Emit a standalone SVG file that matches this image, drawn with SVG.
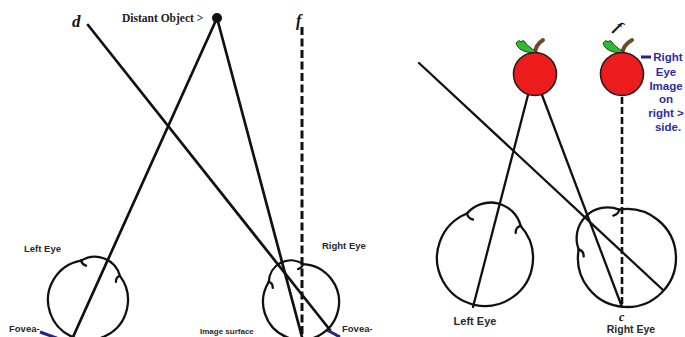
<svg xmlns="http://www.w3.org/2000/svg" width="685" height="337" viewBox="0 0 685 337">
  <defs>
    <style>
      .ray { stroke: #111; stroke-width: 2.7; fill: none; stroke-linecap: round; }
      .ray2 { stroke: #111; stroke-width: 2.3; fill: none; stroke-linecap: round; }
      .dash { stroke: #111; stroke-width: 3; fill: none; stroke-dasharray: 8 3.5; }
      .dash2 { stroke: #111; stroke-width: 2.6; fill: none; stroke-dasharray: 7 3; }
      .eye { stroke: #111; stroke-width: 2.3; fill: none; stroke-linecap: round; }
      .lbl { font-family: "Liberation Sans", Arial, sans-serif; font-weight: bold; fill: #2a2a2a; }
      .blue { font-family: "Liberation Sans", Arial, sans-serif; font-weight: bold; fill: #2e2e9c; font-size: 11.5px; text-anchor: middle; }
      .sym { font-family: "Liberation Serif", "Times New Roman", serif; font-style: italic; font-weight: bold; fill: #111; }
      .pointer { stroke: #23238e; stroke-width: 3; fill: none; }
      .apple { fill: #ec1c1c; stroke: #2a1a1a; stroke-width: 1.6; }
      .stem { fill: none; stroke: #6e4a26; stroke-width: 4; stroke-linecap: round; }
      .leaf { fill: #33b833; stroke: #1f4a1f; stroke-width: 1; }
    </style>
  </defs>
  <rect width="685" height="337" fill="#fff"/>

  <!-- sight lines -->
  <g id="connectors">
    <!-- left panel -->
    <line class="ray" x1="88" y1="25" x2="330" y2="330"/>
    <line class="ray" x1="217" y1="18" x2="73" y2="337"/>
    <line class="ray" x1="217" y1="18" x2="302" y2="337"/>
    <line class="dash" x1="302" y1="27" x2="302" y2="337"/>
    <line class="pointer" x1="40" y1="332" x2="62" y2="340"/>
    <line class="pointer" x1="327" y1="330" x2="340" y2="337"/>
    <!-- right panel -->
    <line class="ray2" x1="419" y1="63" x2="663" y2="290"/>
    <line class="ray2" x1="528" y1="95" x2="473" y2="307"/>
    <line class="ray2" x1="542" y1="95" x2="622" y2="307"/>
    <line class="dash2" x1="622" y1="97" x2="622" y2="307"/>
    <line class="pointer" x1="641" y1="57" x2="651" y2="57" stroke-width="2.5"/>
  </g>

  <!-- left panel -->
  <g id="distant-object">
    <circle cx="217" cy="18" r="5" fill="#111"/>
    <text x="122" y="22" font-family="Liberation Serif, Times New Roman, serif" font-weight="bold" font-size="11.5" fill="#222">Distant Object &gt;</text>
  </g>
  <g id="mark-d">
    <text class="sym" x="72" y="27" font-size="17">d</text>
  </g>
  <g id="mark-f1">
    <text class="sym" x="296" y="26" font-size="16">f</text>
  </g>

  <g id="left-eye-1">
    <path class="eye" d="M119.9 275.9 A40 40 0 1 1 81.1 260.6"/>
    <path class="eye" d="M81.1 260.6 A26 26 0 0 1 119.9 275.9"/>
    <path class="eye" d="M81.1 260.6 q1 4 5 5"/>
    <path class="eye" d="M119.9 275.9 q-4 1 -4 6"/>
    <text class="lbl" x="24" y="252" font-size="9.5">Left Eye</text>
    <text class="lbl" x="9" y="332" font-size="9.5">Fovea-</text>
  </g>

  <g id="right-eye-1">
    <path class="eye" d="M303 264.05 A38 38 0 1 1 268.8 281.9"/>
    <path class="eye" d="M268.8 281.9 A22 22 0 0 1 303 264.05"/>
    <path class="eye" d="M303 264.05 q-1 4 -5 5"/>
    <path class="eye" d="M268.8 281.9 q4 1 4 6"/>
    <text class="lbl" x="322" y="249" font-size="9.5">Right Eye</text>
    <text class="lbl" x="342" y="332" font-size="9.5">Fovea-</text>
    <text class="lbl" x="200" y="334" font-size="8">Image surface</text>
  </g>

  <!-- right panel -->
  <g id="apple-left">
    <path class="stem" d="M535 54 q0 -9 8 -14"/>
    <path class="leaf" d="M516 43 q3 -4 5 -1 q2 -3 4 0 q2 4 12 10 q-10 2 -17 -3 q-3 -2 -4 -6 z"/>
    <circle class="apple" cx="535" cy="74" r="21.5"/>
  </g>

  <g id="apple-right">
    <path class="stem" d="M622 54 q1 -9 10 -14"/>
    <path class="leaf" d="M603 43 q3 -4 5 -1 q2 -3 4 0 q2 4 12 10 q-10 2 -17 -3 q-3 -2 -4 -6 z"/>
    <circle class="apple" cx="622" cy="74" r="21.5"/>
    <text class="sym" x="616" y="33" font-size="16" transform="rotate(35 620 27)">f</text>
    <text class="blue" x="668" y="61">Right</text>
    <text class="blue" x="666" y="75.5">Eye</text>
    <text class="blue" x="666" y="89.5">Image</text>
    <text class="blue" x="666" y="103">on</text>
    <text class="blue" x="666" y="117">right &gt;</text>
    <text class="blue" x="668" y="131">side.</text>
  </g>

  <g id="left-eye-2">
    <path class="eye" d="M520.7 225.9 A48 48 0 1 1 467 213.5"/>
    <path class="eye" d="M467 213.5 A31 31 0 0 1 520.7 225.9"/>
    <path class="eye" d="M467 213.5 q1 5 6 6"/>
    <path class="eye" d="M520.7 225.9 q-5 1 -5 7"/>
    <text class="lbl" x="475" y="325" font-size="11" text-anchor="middle">Left Eye</text>
  </g>

  <g id="right-eye-2">
    <path class="eye" d="M619.3 209.6 A49 49 0 1 1 578.7 249.5"/>
    <path class="eye" d="M578.7 249.5 A31 31 0 0 1 619.3 209.6"/>
    <path class="eye" d="M619.3 209.6 q-1 5 -6 6"/>
    <path class="eye" d="M578.7 249.5 q5 1 5 7"/>
    <text class="sym" x="619" y="321" font-size="12">c</text>
    <text class="lbl" x="631" y="333" font-size="10.5" text-anchor="middle">Right Eye</text>
  </g>
</svg>
